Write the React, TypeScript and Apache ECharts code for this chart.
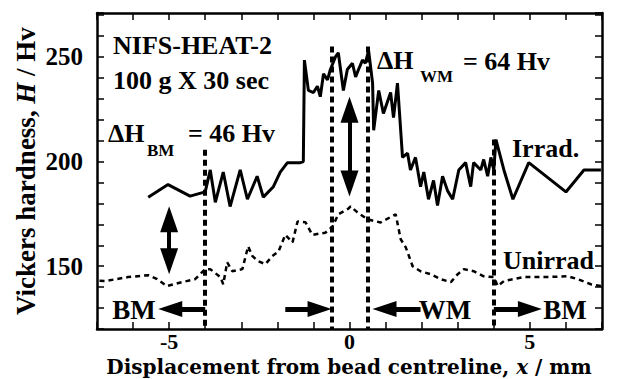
import React, { useEffect, useRef } from "react";
import * as echarts from "echarts";

// Irradiated hardness profile (x in mm, H in Hv)
const irradX = [-5.58, -5.03, -4.42, -4.0, -3.86, -3.72, -3.5, -3.31, -3.03, -2.83, -2.56, -2.39, -2.11, -1.92, -1.72, -1.36, -1.28, -1.25, -1.14, -1.0, -0.89, -0.81, -0.72, -0.61, -0.53, -0.39, -0.31, -0.17, -0.06, 0.08, 0.17, 0.25, 0.36, 0.44, 0.53, 0.64, 0.67, 0.81, 0.94, 1.14, 1.22, 1.33, 1.47, 1.61, 1.69, 1.83, 1.97, 2.06, 2.19, 2.33, 2.44, 2.58, 2.72, 2.86, 3.03, 3.22, 3.36, 3.44, 3.64, 3.72, 3.83, 3.92, 4.0, 4.06, 4.28, 4.53, 4.97, 6.0, 6.5, 6.97];
const irradY = [183, 189, 183.5, 185.5, 196, 180.5, 195, 178.5, 196, 182, 193, 183, 188, 195, 199.5, 199.5, 200, 248.5, 234, 233, 236, 231, 242, 239, 244, 250, 252, 234, 244, 247, 240.5, 244, 248.5, 247, 253, 237.5, 215, 234, 223, 233, 221, 237.5, 202, 204, 196, 202, 188, 195, 182, 191, 179, 193, 186, 182, 196, 199.5, 188, 199.5, 196, 201, 193, 202, 196, 210.5, 196, 182, 199.5, 185.5, 196, 196];

// Unirradiated hardness profile
const unirradX = [-6.93, -6.78, -6.14, -5.58, -5.33, -5.06, -4.64, -4.28, -4.0, -3.86, -3.58, -3.5, -3.39, -3.25, -2.97, -2.81, -2.69, -2.53, -2.33, -2.14, -1.97, -1.78, -1.58, -1.44, -1.22, -1.03, -0.67, -0.47, -0.31, -0.03, 0.03, 0.22, 0.5, 0.86, 1.28, 1.42, 1.56, 1.75, 1.97, 2.25, 2.53, 2.81, 3.0, 3.17, 3.44, 3.72, 4.0, 4.11, 4.28, 4.83, 5.39, 6.06, 6.33, 6.69, 6.97];
const unirradY = [143, 142.9, 144.8, 145.7, 143.8, 140.5, 142.4, 143.8, 148.6, 148.6, 144.8, 141.4, 151.9, 147.6, 148.6, 159.5, 154.8, 152.4, 151, 154.8, 157, 165, 161.4, 171.4, 171, 165, 166, 169, 174.8, 177.5, 178.6, 175.7, 172.4, 170.9, 174.8, 162.9, 159, 150, 147.6, 146.2, 143.8, 142.4, 146.2, 148.6, 147.6, 145.2, 144.8, 140.5, 142.9, 144.8, 144.8, 145.2, 143.8, 141.4, 140.5];

// Tick labels
const xTickLabels = [-5, 0, 5];
const yTickLabels = [150, 200, 250];

// Zone boundaries (dashed verticals): x position and top value
const boundaryX = [-4, -0.5, 0.5, 4];
const boundaryTop = [205.7, 255, 255, 210.5];

// Double arrows (delta H): x, upper and lower ends
const deltaArrowX = [-5, 0];
const deltaArrowTop = [172.4, 224.8];
const deltaArrowBottom = [152.4, 189.5];

// Zone arrows along the bottom: tail x, head x
const zoneArrowTail = [-4, -1.78, 1.97, 4];
const zoneArrowHead = [-4.97, -0.83, 0.97, 5.0];
const zoneArrowY = 129.5;

const FONT = "'Liberation Serif', 'Times New Roman', serif";
const WIDE = "'DejaVu Serif', 'Liberation Serif', serif";

export default function App() {
  const ref = useRef<HTMLDivElement>(null);
  useEffect(() => {
    const chart = echarts.init(ref.current!, null, { renderer: "svg" });

    const markData: any[] = [];
    boundaryX.forEach((x, i) => {
      markData.push([
        { coord: [x, boundaryTop[i]], symbol: "none", lineStyle: { type: [6, 4], width: 4, color: "#000" } },
        { coord: [x, 120], symbol: "none" },
      ]);
    });
    deltaArrowX.forEach((x, i) => {
      markData.push([
        { coord: [x, deltaArrowTop[i]], symbol: "triangle", symbolSize: [18, 26], lineStyle: { type: "solid", width: 4, color: "#000" } },
        { coord: [x, deltaArrowBottom[i]], symbol: "triangle", symbolSize: [18, 26] },
      ]);
    });
    zoneArrowTail.forEach((x, i) => {
      markData.push([
        { coord: [x, zoneArrowY], symbol: "none", lineStyle: { type: "solid", width: 5, color: "#000" } },
        { coord: [zoneArrowHead[i], zoneArrowY], symbol: "triangle", symbolSize: [16, 24] },
      ]);
    });

    const axisLine = { show: true, onZero: false, lineStyle: { color: "#000", width: 2.5 } };
    const axisTick = { show: true, inside: true, length: 7, lineStyle: { color: "#000", width: 1.5 } };

    const txt = (text: string, x: number, y: number, size: number, align = "left", vAlign = "middle") => ({
      type: "text",
      x,
      y,
      style: {
        text,
        fill: "#000",
        font: `bold ${size}px ${FONT}`,
        textAlign: align,
        textVerticalAlign: vAlign,
      },
    });

    chart.setOption({
      animation: false,
      backgroundColor: "#fff",
      grid: { left: 97, right: 19, top: 13, bottom: 50, containLabel: false },
      xAxis: [
        {
          type: "value",
          min: -7,
          max: 7,
          interval: 1,
          axisLine,
          axisTick,
          splitLine: { show: false },
          axisLabel: {
            margin: 1,
            color: "#000",
            fontFamily: FONT,
            fontWeight: "bold",
            fontSize: 22,
            lineHeight: 22,
            formatter: (v: number) => (xTickLabels.includes(v) ? String(v) : ""),
          },
        },
        {
          type: "value",
          position: "top",
          min: -7,
          max: 7,
          interval: 1,
          axisLine,
          axisTick,
          splitLine: { show: false },
          axisLabel: { show: false },
        },
      ],
      yAxis: [
        {
          type: "value",
          min: 120,
          max: 271,
          interval: 10,
          axisLine,
          axisTick,
          splitLine: { show: false },
          axisLabel: {
            margin: 14,
            color: "#000",
            fontFamily: FONT,
            fontWeight: "bold",
            fontSize: 25,
            formatter: (v: number) => (yTickLabels.includes(v) ? String(v) : ""),
          },
        },
        {
          type: "value",
          position: "right",
          min: 120,
          max: 271,
          interval: 10,
          axisLine,
          axisTick,
          splitLine: { show: false },
          axisLabel: { show: false },
        },
      ],
      series: [
        {
          name: "Irrad.",
          type: "line",
          data: irradX.map((x, i) => [x, irradY[i]]),
          symbol: "none",
          lineStyle: { color: "#000", width: 3 },
          markLine: {
            silent: true,
            symbol: ["none", "none"],
            label: { show: false },
            emphasis: { disabled: true },
            itemStyle: { color: "#000" },
            data: markData,
          },
        },
        {
          name: "Unirrad",
          type: "line",
          data: unirradX.map((x, i) => [x, unirradY[i]]),
          symbol: "none",
          lineStyle: { color: "#000", width: 2.5, type: [5, 4] },
        },
      ],
      graphic: [
        txt("NIFS-HEAT-2", 113, 45, 26),
        txt("100 g X 30 sec", 113, 80, 26),
        txt("ΔH", 108, 133, 26),
        txt("BM", 147, 150, 17),
        txt("= 46 Hv", 188, 133, 26),
        txt("ΔH", 377, 60, 26),
        txt("WM", 420, 76, 17),
        txt("= 64 Hv", 463, 61, 26),
        txt("Irrad.", 512, 148, 26),
        txt("Unirrad", 503, 260, 26),
        txt("BM", 134, 310, 27, "center"),
        txt("WM", 445, 310, 27, "center"),
        txt("BM", 565, 310, 27, "center"),
        {
          type: "text",
          x: 349,
          y: 367,
          style: {
            text: "{b|Displacement from bead centreline, }{i|x}{b| / mm}",
            textAlign: "center",
            textVerticalAlign: "middle",
            fill: "#000",
            rich: {
              b: { fontFamily: WIDE, fontWeight: "bold", fontSize: 20, lineHeight: 22, fill: "#000" },
              i: { fontFamily: WIDE, fontWeight: "bold", fontStyle: "italic", fontSize: 20, lineHeight: 22, fill: "#000" },
            },
          },
        },
        {
          type: "text",
          x: 26,
          y: 171,
          rotation: Math.PI / 2,
          style: {
            text: "{b|Vickers hardness, }{i|H}{b| / Hv}",
            textAlign: "center",
            textVerticalAlign: "middle",
            fill: "#000",
            rich: {
              b: { fontFamily: FONT, fontWeight: "bold", fontSize: 27, fill: "#000" },
              i: { fontFamily: FONT, fontWeight: "bold", fontStyle: "italic", fontSize: 27, fill: "#000" },
            },
          },
        },
      ],
    });
    return () => chart.dispose();
  }, []);
  return (
    <div
      ref={ref}
      style={{ position: "fixed", left: 0, top: 0, width: 621, height: 379, background: "#fff" }}
    />
  );
}
